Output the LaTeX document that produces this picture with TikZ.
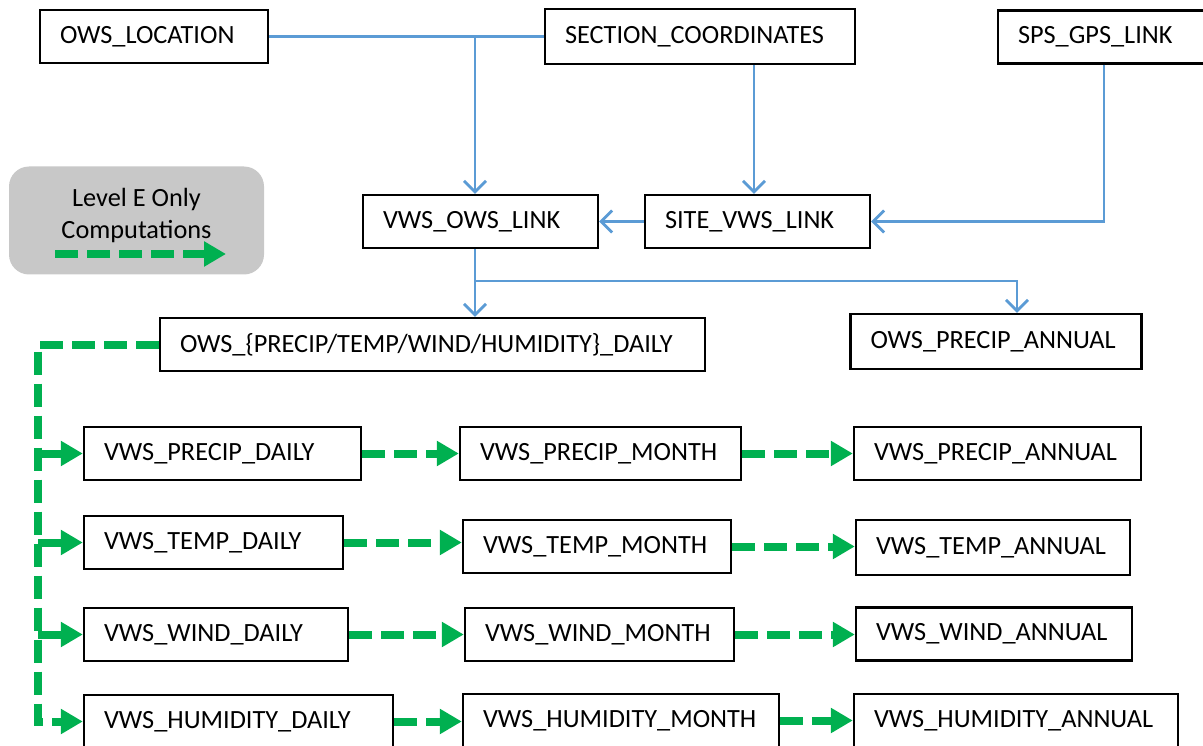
\documentclass[tikz,border=0pt]{standalone}
\usepackage{fontspec}
\setmainfont{Carlito}
\usetikzlibrary{arrows.meta}
\definecolor{lblue}{HTML}{5B9BD5}
\definecolor{lgreen}{HTML}{00B050}
\definecolor{lgray}{HTML}{C8C8C8}
\begin{document}
\begin{tikzpicture}[x=1pt,y=-1pt,
  bx/.style={draw=black,line width=2.4pt,fill=white,minimum height=53pt,inner xsep=20pt,inner ysep=0pt,align=left,font=\fontsize{26.3}{31}\selectfont},
  bline/.style={draw=lblue,line width=2.7pt},
  barrow/.style={bline,-{Straight Barb[length=11pt,width=22pt,line width=2.7pt]}},
  gline/.style={draw=lgreen,line width=8pt,dash pattern=on 23pt off 9pt,-{Triangle[length=22pt,width=24pt]}},
  gplain/.style={draw=lgreen,line width=8pt,dash pattern=on 23pt off 9pt}]
\useasboundingbox (0,0) rectangle (1203,746);
% legend
\node[fill=lgray,rounded corners=20pt,minimum width=255pt,minimum height=108pt] (legend) at (136.5,220.5) {};
\node[font=\fontsize{26.3}{32}\selectfont,align=center,inner sep=0pt] (legtext) at (136.5,215.5) {Level E Only\\Computations};
\coordinate (la) at (55,254);
\coordinate (lb) at (226,254);
\draw[gline] (la) -- (lb);
% boxes
\node[bx,text width=188pt] (owsloc) at (154,36.5) {OWS\_LOCATION};
\node[bx,text width=270pt,minimum height=55pt] (seccoord) at (700,36.5) {SECTION\_COORDINATES};
\node[bx,text width=200pt] (spsgps) at (1118,37) {SPS\_GPS\_LINK};
\node[bx,text width=195pt] (vwsows) at (480.5,221.5) {VWS\_OWS\_LINK};
\node[bx,text width=185pt] (sitevws) at (757.5,221.5) {SITE\_VWS\_LINK};
\node[bx,text width=505pt] (owsdaily) at (432.5,344.5) {OWS\_\{PRECIP/TEMP/WIND/HUMIDITY\}\_DAILY};
\node[bx,text width=251pt,minimum height=55pt] (owsannual) at (996,341.5) {OWS\_PRECIP\_ANNUAL};
\node[bx,text width=237pt] (precipdaily) at (222.5,453.5) {VWS\_PRECIP\_DAILY};
\node[bx,text width=241pt] (precipmonth) at (600.5,453.5) {VWS\_PRECIP\_MONTH};
\node[bx,text width=247pt] (precipannual) at (997.5,453.5) {VWS\_PRECIP\_ANNUAL};
\node[bx,text width=219pt] (tempdaily) at (213.5,542.5) {VWS\_TEMP\_DAILY};
\node[bx,text width=228pt] (tempmonth) at (597,546.5) {VWS\_TEMP\_MONTH};
\node[bx,text width=234pt,minimum height=55pt] (tempannual) at (993,547.5) {VWS\_TEMP\_ANNUAL};
\node[bx,text width=224pt] (winddaily) at (216,634.5) {VWS\_WIND\_DAILY};
\node[bx,text width=229pt] (windmonth) at (599.5,634.5) {VWS\_WIND\_MONTH};
\node[bx,text width=236pt] (windannual) at (994,634) {VWS\_WIND\_ANNUAL};
\node[bx,text width=269pt] (humdaily) at (238.5,721.5) {VWS\_HUMIDITY\_DAILY};
\node[bx,text width=276pt] (hummonth) at (621,720.5) {VWS\_HUMIDITY\_MONTH};
\node[bx,text width=284pt] (humannual) at (1016,720.5) {VWS\_HUMIDITY\_ANNUAL};
% blue connectors
\coordinate (j1) at (475,36.5);
\coordinate (j2) at (754,64);
\coordinate (j3) at (475,281);
\coordinate (j4) at (1017,281);
\coordinate (j5) at (1104,64);
\draw[bline] (owsloc.east) -- (seccoord.west);
\draw[barrow] (j1) -- (j1 |- vwsows.north);
\draw[barrow] (seccoord.south -| j2) -- (sitevws.north -| j2);
\draw[barrow] (spsgps.south -| j5) |- (sitevws.east);
\draw[barrow] (sitevws.west) -- (vwsows.east);
\draw[barrow] (vwsows.south -| j1) -- (owsdaily.north -| j1);
\draw[barrow] (j3) -| (j4 |- owsannual.north);
% green connectors
\coordinate (gx) at (38,344.5);
\draw[gline] (owsdaily.west) -| (gx |- humdaily.west) -- (humdaily.west);
\draw[gline] (gx |- precipdaily.west) -- (precipdaily.west);
\draw[gline] (gx |- tempdaily.west) -- (tempdaily.west);
\draw[gline] (gx |- winddaily.west) -- (winddaily.west);
\draw[gline] (precipdaily.east) -- (precipmonth.west |- precipdaily.east);
\draw[gline] (precipmonth.east) -- (precipannual.west |- precipmonth.east);
\draw[gline] (tempdaily.east) -- (tempmonth.west |- tempdaily.east);
\draw[gline] (tempmonth.east) -- (tempannual.west |- tempmonth.east);
\draw[gline] (winddaily.east) -- (windmonth.west |- winddaily.east);
\draw[gline] (windmonth.east) -- (windannual.west |- windmonth.east);
\draw[gline] (humdaily.east) -- (hummonth.west |- humdaily.east);
\draw[gline] (hummonth.east) -- (humannual.west |- hummonth.east);
\end{tikzpicture}
\end{document}
